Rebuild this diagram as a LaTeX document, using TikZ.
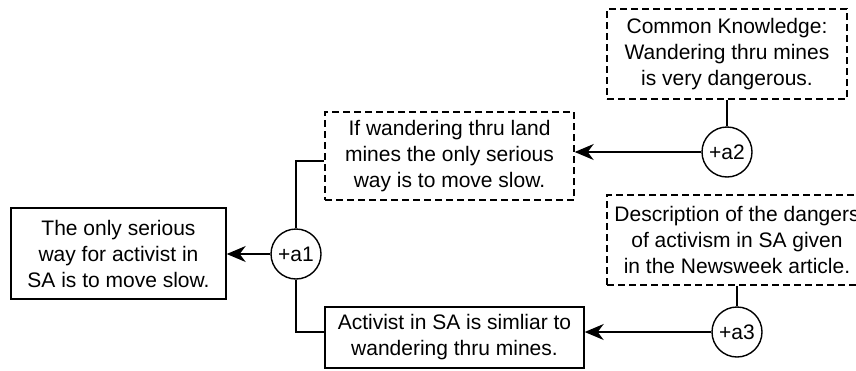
\documentclass[tikz,border=0pt]{standalone}
\usepackage{fontspec}
\setmainfont{Liberation Sans}
\usetikzlibrary{arrows.meta}

\begin{document}
\begin{tikzpicture}
[x=1pt,y=-1pt,%
  darkArrow/.style={-{Stealth[length=19pt,width=16pt,inset=6pt]},line width=1.4pt},%
  plainLine/.style={line width=1.4pt},%
  claimBox/.style={shape=rectangle,draw,line width=1.4pt,align=center,inner sep=0pt,font=\fontsize{21}{26}\selectfont},%
  givenBox/.style={claimBox,dash pattern=on 7pt off 4pt},%
  argDecorate/.style={shape=circle,draw,line width=1.4pt,minimum size=50pt,inner sep=0pt,font=\fontsize{21}{26}\selectfont}]
\useasboundingbox (0,0) rectangle (856,370);
%% statement boxes
\node (claim) at (118.5,253.5) [claimBox,minimum width=215pt,minimum height=91pt]
  {The only serious\\way for activist in\\SA is to move slow.};
\node (landmines) at (449.5,156) [givenBox,minimum width=249pt,minimum height=88pt]
  {If wandering thru land\\mines the only serious\\way is to move slow.};
\node (similar) at (454.5,337.5) [claimBox,minimum width=259pt,minimum height=61pt]
  {Activist in SA is simliar to\\wandering thru mines.};
\node (common) at (727,54) [givenBox,minimum width=240pt,minimum height=90pt]
  {Common Knowledge:\\Wandering thru mines\\is very dangerous.};
\node (newsweek) at (737,240) [givenBox,minimum width=260pt,minimum height=90pt]
  {Description of the dangers\\of activism in SA given\\in the Newsweek article.};
%% argument nodes
\foreach \nodename/\x/\y in {a1/296/254, a2/727/152, a3/737/332}
{
  \node (\nodename) at (\x,\y) [argDecorate] {+\nodename};
}
%% arrows to conclusions
\path
\foreach \startnode/\endnode in {a1/claim, a2/landmines, a3/similar}
{
  (\startnode) edge[darkArrow] (\startnode -| \endnode.east)
}
%% lines from grounds
\foreach \startnode/\endnode in {a2/common, a3/newsweek}
{
  (\startnode) edge[plainLine] (\startnode |- \endnode.south)
};
\draw[plainLine] (a1) |- ([yshift=-5pt]landmines.west);
\draw[plainLine] (a1) |- ([yshift=5.5pt]similar.west);
\end{tikzpicture}
\end{document}
